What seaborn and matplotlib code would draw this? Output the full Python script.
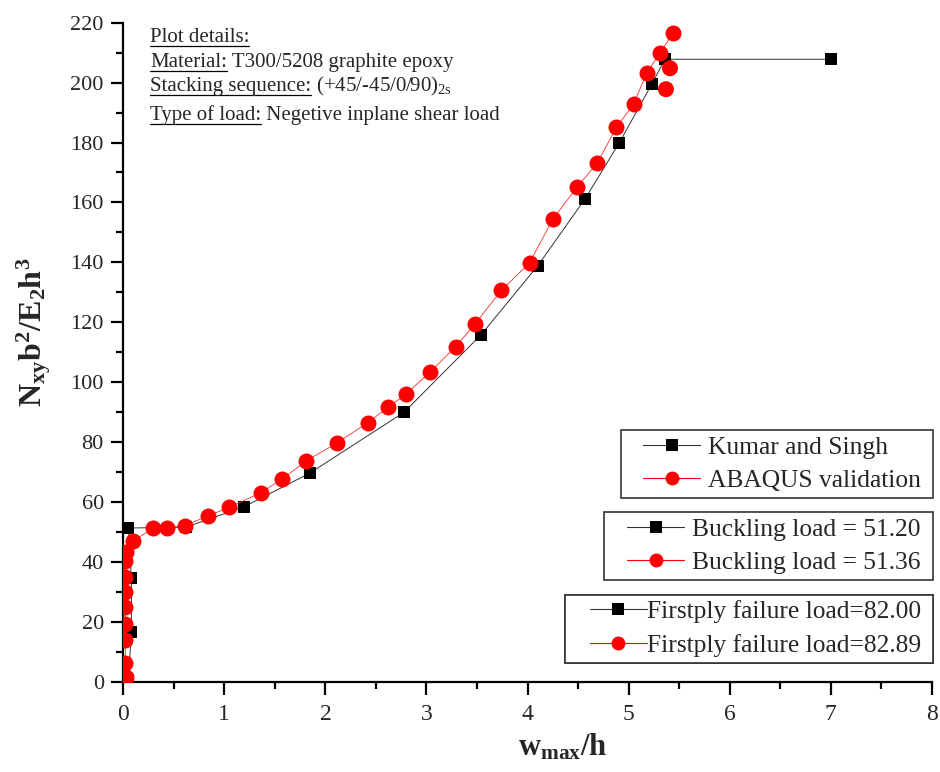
import matplotlib
matplotlib.use("Agg")
import matplotlib.pyplot as plt
import seaborn as sns
import pandas as pd
from matplotlib.lines import Line2D
from matplotlib.legend_handler import HandlerLine2D
from matplotlib.ticker import MultipleLocator

# ---------------- data ----------------
kumar_w = [0.05, 0.08, 0.08, 0.05, 0.62, 1.19, 1.85, 2.78, 3.54, 4.10, 4.57, 4.91, 5.23, 5.36, 7.00]
kumar_n = [0.5, 16.6, 34.6, 51.3, 51.6, 58.3, 69.7, 90.0, 115.8, 138.8, 161.2, 180.0, 199.5, 207.8, 207.8]

abaqus_w = [0.03, 0.02, 0.02, 0.02, 0.02, 0.02, 0.02, 0.02, 0.03, 0.10, 0.29, 0.43, 0.61, 0.84,
            1.05, 1.36, 1.57, 1.81, 2.11, 2.42, 2.62, 2.80, 3.04, 3.29, 3.48, 3.74, 4.02, 4.25,
            4.49, 4.69, 4.88, 5.05, 5.18, 5.31, 5.44]
abaqus_n = [1.7, 6.2, 13.9, 19.2, 24.9, 30.0, 35.1, 40.3, 43.4, 47.0, 51.2, 51.4, 52.1, 55.4,
            58.2, 63.1, 67.6, 73.7, 79.6, 86.5, 91.6, 96.1, 103.5, 111.9, 119.4, 130.6, 139.8, 154.4,
            165.1, 173.1, 185.1, 192.8, 203.3, 209.8, 216.5]

# post-peak ABAQUS points
abaqus_post_w = [5.41, 5.37]
abaqus_post_n = [204.8, 197.8]

legend1_labels = ["Kumar and Singh", "ABAQUS validation"]
legend2_labels = ["Buckling load = 51.20", "Buckling load = 51.36"]
legend3_labels = ["Firstply failure load=82.00", "Firstply failure load=82.89"]

info_lines = [("Plot details:", ""),
              ("Material:", " T300/5208 graphite epoxy"),
              ("Stacking sequence:", " (+45/-45/0/90)$_{\\mathrm{2s}}$"),
              ("Type of load:", " Negetive inplane shear load")]

# ---------------- style ----------------
sns.set_style("ticks")
plt.rcParams['font.family'] = ['Liberation Serif', 'DejaVu Serif']
plt.rcParams['mathtext.fontset'] = 'custom'
plt.rcParams['mathtext.rm'] = 'Liberation Serif'
plt.rcParams['mathtext.it'] = 'Liberation Serif:italic'
plt.rcParams['mathtext.bf'] = 'Liberation Serif:bold'

W, H = 940, 772
fig = plt.figure(figsize=(W / 100, H / 100), dpi=100)
ax = fig.add_axes([123.3 / W, (H - 681.7) / H, 808.4 / W, 659.0 / H])

kumar = pd.DataFrame({"w": kumar_w, "N": kumar_n})
abaqus = pd.DataFrame({"w": abaqus_w, "N": abaqus_n})

sns.lineplot(data=kumar, x="w", y="N", sort=False, estimator=None, ax=ax,
             color="#333333", lw=0.7, marker="s", markersize=9,
             markerfacecolor="black", markeredgewidth=0, zorder=3)
sns.lineplot(data=abaqus, x="w", y="N", sort=False, estimator=None, ax=ax,
             color="#ff2a2a", lw=0.6, marker="o", markersize=11.5,
             markerfacecolor="red", markeredgewidth=0, zorder=4)
sns.scatterplot(x=abaqus_post_w, y=abaqus_post_n, ax=ax, color="red",
                marker="o", s=11.5 ** 2, edgecolor="none", linewidth=0, zorder=4)

ax.set_xlim(0, 8)
ax.set_ylim(0, 220)
ax.xaxis.set_major_locator(MultipleLocator(1))
ax.xaxis.set_minor_locator(MultipleLocator(0.5))
ax.yaxis.set_major_locator(MultipleLocator(20))
ax.yaxis.set_minor_locator(MultipleLocator(10))

for s in ["top", "right"]:
    ax.spines[s].set_visible(False)
for s in ["left", "bottom"]:
    ax.spines[s].set_linewidth(1.6)
    ax.spines[s].set_color("black")

ax.tick_params(which="major", length=9, width=1.6, direction="out", color="black", pad=5)
ax.tick_params(which="minor", length=5, width=1.6, direction="out", color="black")
ax.tick_params(axis="x", which="major", labelsize=17, pad=7)
ax.tick_params(axis="y", which="major", labelsize=16)

ax.set_xlabel(r"$\mathbf{w_{max}/h}$", fontsize=22)
ax.set_ylabel(r"$\mathbf{N_{xy}b^2/E_2h^3}$", fontsize=23)
ax.xaxis.set_label_coords(0.544, -0.076)
ax.yaxis.set_label_coords(-0.087, 0.53)

# ---------------- legends ----------------
class PadHandler(HandlerLine2D):
    """Line handler that leaves an empty gap of `lead` points on the left."""
    def __init__(self, lead, **kw):
        super().__init__(**kw)
        self.lead = lead

    def create_artists(self, legend, orig_handle, xdescent, ydescent, width,
                       height, fontsize, trans):
        return super().create_artists(legend, orig_handle, xdescent - self.lead,
                                      ydescent, width - self.lead, height,
                                      fontsize, trans)

h_k = Line2D([], [], color="#333333", lw=0.8, marker="s", markersize=9,
             markerfacecolor="black", markeredgewidth=0)
h_a = Line2D([], [], color="red", lw=0.8, marker="o", markersize=10,
             markerfacecolor="red", markeredgewidth=0)

FS = 18.4
FS_PX = FS * 100 / 72.0

def make_legend(labels, top_px, textpad_px, lead_px):
    lead_pt = lead_px * 0.72
    hm = {h_k: PadHandler(lead_pt), h_a: PadHandler(lead_pt)}
    leg = ax.legend([h_k, h_a], [l + " " for l in labels], loc="upper right",
                    bbox_to_anchor=(1.0016, (681.7 - top_px) / 659.0),
                    borderaxespad=0, fontsize=FS, frameon=True, fancybox=False,
                    edgecolor="#333333", framealpha=1,
                    handlelength=(57 + lead_px) / FS_PX,
                    handletextpad=textpad_px / FS_PX, borderpad=0.22,
                    labelspacing=0.43, handler_map=hm)
    leg.get_frame().set_linewidth(1.2)
    ax.add_artist(leg)
    return leg

make_legend(legend1_labels, 430, 8, 16.4)
make_legend(legend2_labels, 512, 8, 17.4)
make_legend(legend3_labels, 594.7, 0, 19.4)

# ---------------- info text with underlines ----------------
fig.canvas.draw()
renderer = fig.canvas.get_renderer()
baselines_px = [42, 67, 91, 120]
for (lab, rest), bpx in zip(info_lines, baselines_px):
    yf = 1 - bpx / H
    t = fig.text(150 / W, yf, lab, fontsize=15, va="baseline", ha="left")
    bb = t.get_window_extent(renderer)
    fig.add_artist(Line2D([bb.x0 / W, bb.x1 / W], [yf - 4 / H] * 2,
                          color="black", lw=0.9, transform=fig.transFigure))
    if rest:
        fig.text(bb.x1 / W, yf, rest, fontsize=15, va="baseline", ha="left")

fig.savefig("out.png", dpi=100)
